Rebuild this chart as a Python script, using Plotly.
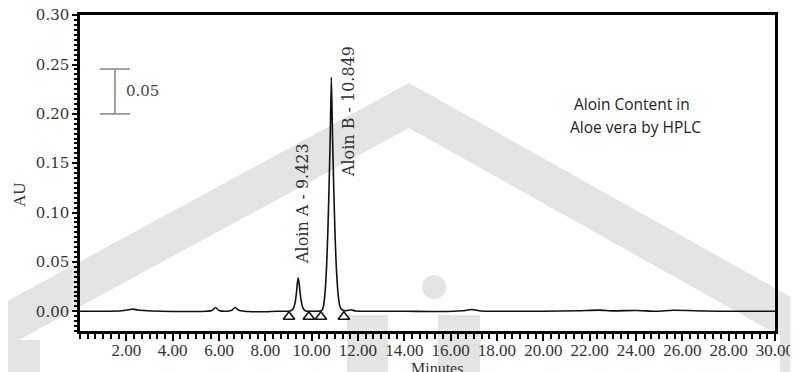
import plotly.graph_objects as go

# ---- data ----
time_min = [0.00, 1.00, 1.80, 2.10, 2.30, 2.50, 2.90, 3.50, 4.50, 5.40, 5.70, 5.85, 6.00,
            6.30, 6.55, 6.70, 6.85, 7.10, 7.80, 8.50, 9.00, 9.10, 9.20, 9.28, 9.34, 9.38,
            9.42, 9.46, 9.50, 9.56, 9.62, 9.70, 9.80, 9.95, 10.15, 10.35, 10.45, 10.50,
            10.55, 10.60, 10.65, 10.70, 10.75, 10.80, 10.85, 10.90, 10.95, 11.00, 11.05,
            11.10, 11.15, 11.20, 11.25, 11.35, 11.50, 11.70, 11.90, 12.50, 14.00, 15.50,
            16.50, 16.90, 17.30, 18.00, 20.00, 21.50, 22.40, 23.00, 24.00, 24.90, 25.60,
            27.00, 28.00, 30.00]
absorbance_au = [0.0000, 0.0000, 0.0005, 0.0015, 0.0022, 0.0012, 0.0005, 0.0000, -0.0003,
                 0.0000, 0.0008, 0.0038, 0.0008, 0.0000, 0.0010, 0.0038, 0.0010, 0.0000,
                 -0.0005, 0.0000, 0.0000, 0.0005, 0.0025, 0.0080, 0.0180, 0.0280,
                 0.0340, 0.0280, 0.0190, 0.0090, 0.0035, 0.0010, 0.0000, 0.0000, 0.0000,
                 0.0002, 0.0012, 0.0040, 0.0120, 0.0260, 0.0480, 0.0820, 0.1250, 0.1750,
                 0.2370, 0.1780, 0.1280, 0.0850, 0.0520, 0.0300, 0.0150, 0.0070, 0.0030,
                 0.0010, 0.0005, 0.0015, 0.0003, 0.0000, 0.0000, -0.0003,
                 0.0005, 0.0018, 0.0003, 0.0000, 0.0000, 0.0005, 0.0012, 0.0004, 0.0008,
                 0.0000, 0.0010, 0.0002, 0.0000, 0.0000]

integration_marks_min = [9.02, 9.88, 10.40, 11.39]
integration_marks_au = [-0.0055, -0.0055, -0.0055, -0.0055]

peak_names = ["Aloin A - 9.423", "Aloin B - 10.849"]
peak_label_x = [9.58, 11.57]
peak_label_y = [0.1096, 0.2018]

scale_bar_x = 1.51
scale_bar_au = [0.200, 0.2455]
scale_bar_label = "0.05"

x_tick_vals = [2, 4, 6, 8, 10, 12, 14, 16, 18, 20, 22, 24, 26, 28, 30]
x_tick_labels = ["2.00", "4.00", "6.00", "8.00", "10.00", "12.00", "14.00", "16.00",
                 "18.00", "20.00", "22.00", "24.00", "26.00", "28.00", "30.00"]
y_tick_vals = [0.00, 0.05, 0.10, 0.15, 0.20, 0.25, 0.30]
y_tick_labels = ["0.00", "0.05", "0.10", "0.15", "0.20", "0.25", "0.30"]

title_lines = ["Aloin Content in", "Aloe vera by HPLC"]

# ---- figure (page body adds an 8px offset, so the figure is 8px smaller) ----
OFF = 8
W, H = 798 - OFF, 372 - OFF
ML, MR, MT, MB = 80 - OFF, 23, 15 - OFF, 41
PW, PH = W - ML - MR, H - MT - MB


def px(x):
    return (x - OFF - ML) / PW


def py(y):
    return (H - MB - (y - OFF)) / PH


fig = go.Figure()

fig.add_trace(go.Scatter(
    x=time_min, y=absorbance_au, mode="lines",
    line=dict(color="#111111", width=1.6, shape="spline", smoothing=0.6),
    hoverinfo="skip", showlegend=False))

fig.add_trace(go.Scatter(
    x=integration_marks_min, y=integration_marks_au, mode="markers",
    marker=dict(symbol="triangle-up-open", size=10, color="#111111",
                line=dict(width=1.6, color="#111111")),
    hoverinfo="skip", showlegend=False))

gray = "#e4e4e4"
shapes = []
# watermark chevron
chev = [(0, 305), (409, 83), (798, 301), (798, 346), (409, 128), (0, 350)]
path = "M " + " L ".join(f"{px(a):.5f},{py(b):.5f}" for a, b in chev) + " Z"
shapes.append(dict(type="path", path=path, xref="paper", yref="paper",
                   fillcolor=gray, line=dict(width=0), layer="below"))
for (x0, y0, x1, y1) in [(347, 315, 388, 380), (438, 315, 480, 380),
                         (0, 340, 40, 380), (780, 315, 800, 380)]:
    shapes.append(dict(type="rect", xref="paper", yref="paper",
                       x0=px(x0), x1=px(x1), y0=py(y1), y1=py(y0),
                       fillcolor=gray, line=dict(width=0), layer="below"))
shapes.append(dict(type="circle", xref="paper", yref="paper",
                   x0=px(422), x1=px(446), y0=py(299), y1=py(275),
                   fillcolor=gray, line=dict(width=0), layer="below"))

# scale bar
bar_col = "#8a8a8a"
shapes.append(dict(type="line", xref="x", yref="y", x0=scale_bar_x, x1=scale_bar_x,
                   y0=scale_bar_au[0], y1=scale_bar_au[1], line=dict(color=bar_col, width=1.6)))
for yv in scale_bar_au:
    shapes.append(dict(type="line", xref="x", yref="y", x0=scale_bar_x - 0.65,
                       x1=scale_bar_x + 0.65, y0=yv, y1=yv,
                       line=dict(color=bar_col, width=1.6)))

annotations = []
serif = "Liberation Serif"
for name, xv, yv in zip(peak_names, peak_label_x, peak_label_y):
    annotations.append(dict(x=xv, y=yv, xref="x", yref="y", text=name, showarrow=False,
                            textangle=-90, xanchor="center", yanchor="middle",
                            font=dict(family="DejaVu Serif", size=16, color="#333333")))
annotations.append(dict(x=scale_bar_x + 0.4, y=sum(scale_bar_au) / 2, xref="x", yref="y",
                        text=scale_bar_label, showarrow=False, xanchor="left",
                        yanchor="middle",
                        font=dict(family="DejaVu Serif", size=15, color="#444444")))
for line_txt, cx, cy in zip(title_lines, [632, 635], [104, 127]):
    annotations.append(dict(x=px(cx), y=py(cy), xref="paper", yref="paper", text=line_txt,
                            showarrow=False, xanchor="center", yanchor="middle",
                            font=dict(family="Open Sans", size=15.5, color="#222222")))
annotations.append(dict(x=px(20), y=py(195), xref="paper", yref="paper", text="AU",
                        showarrow=False, textangle=-90, xanchor="center", yanchor="middle",
                        font=dict(family=serif, size=17, color="#333333")))
annotations.append(dict(x=px(437), y=py(368), xref="paper", yref="paper", text="Minutes",
                        showarrow=False, xanchor="center", yanchor="middle",
                        font=dict(family=serif, size=16, color="#333333")))

fig.update_layout(
    width=W, height=H, autosize=False,
    margin=dict(l=ML, r=MR, t=MT, b=MB, pad=0, autoexpand=False),
    paper_bgcolor="white", plot_bgcolor="rgba(0,0,0,0)",
    showlegend=False, shapes=shapes, annotations=annotations,
    xaxis=dict(range=[0, 30.001], showgrid=False, zeroline=False, showline=True,
               automargin=False, ticklabeloverflow="allow",
               linecolor="black", linewidth=2.5, mirror=True,
               ticks="outside", ticklen=7, tickwidth=2, tickcolor="black",
               tickmode="array", tickvals=x_tick_vals, ticktext=x_tick_labels,
               ticklabelstandoff=-5,
               tickfont=dict(family=serif, size=17, color="#333333"),
               minor=dict(tickmode="linear", tick0=0, dtick=1 / 3, ticks="outside",
                          ticklen=5, tickwidth=2, tickcolor="black", showgrid=False)),
    yaxis=dict(range=[-0.02, 0.3002], showgrid=False, zeroline=False, showline=True,
               automargin=False, ticklabeloverflow="allow",
               linecolor="black", linewidth=2.5, mirror=True,
               ticks="outside", ticklen=5, tickwidth=2, tickcolor="black",
               tickmode="array", tickvals=y_tick_vals, ticktext=y_tick_labels,
               tickfont=dict(family="DejaVu Serif", size=15, color="#333333"),
               minor=dict(tickmode="linear", tick0=0, dtick=0.005, ticks="outside",
                          ticklen=3, tickwidth=1.5, tickcolor="black", showgrid=False)),
)

fig.write_html("out.html")
